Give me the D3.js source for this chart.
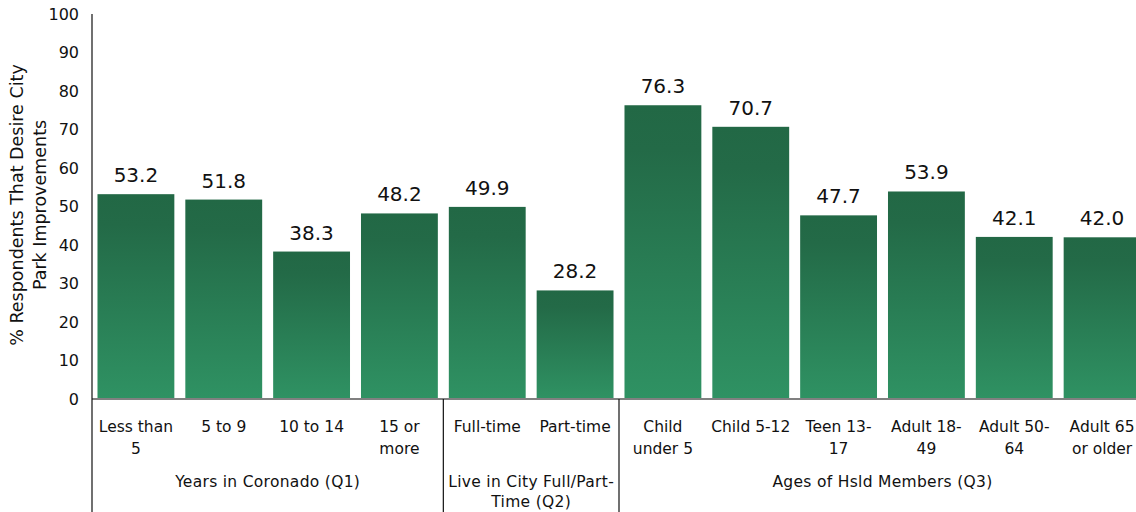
<!DOCTYPE html>
<html><head><meta charset="utf-8">
<script src="https://cdn.jsdelivr.net/npm/d3@7"></script>
<style>body{margin:0;background:#fff}svg{display:block}text{fill:#111}</style>
</head><body><svg id="c" width="1136" height="512"></svg>
<script>
const categories = ["Less than|5","5 to 9","10 to 14","15 or|more","Full-time","Part-time","Child|under 5","Child 5-12","Teen 13-|17","Adult 18-|49","Adult 50-|64","Adult 65|or older"];
const values = [53.2,51.8,38.3,48.2,49.9,28.2,76.3,70.7,47.7,53.9,42.1,42.0];
const groups = ["Years in Coronado (Q1)","Live in City Full/Part-|Time (Q2)","Ages of Hsld Members (Q3)"];
const groupSizes = [4,2,6];
const yTicks = [0,10,20,30,40,50,60,70,80,90,100];
const yTitle = ["% Respondents That Desire City","Park Improvements"];

const svg = d3.select("#c");
const font = "DejaVu Sans, Verdana, sans-serif";
const x = d3.scaleBand().domain(d3.range(categories.length)).range([92,1146]).paddingInner(0.125).paddingOuter(0.0625);
const y = d3.scaleLinear().domain([0,100]).range([399,14]);

const defs = svg.append("defs");
const g = defs.append("linearGradient").attr("id","gr").attr("x1",0).attr("y1",0).attr("x2",0).attr("y2",1);
g.append("stop").attr("offset","0%").attr("stop-color","#226845");
g.append("stop").attr("offset","15%").attr("stop-color","#236a47");
g.append("stop").attr("offset","100%").attr("stop-color","#2f9263");

svg.selectAll("rect.bar").data(values).join("rect").attr("class","bar")
  .attr("x",(d,i)=>x(i)).attr("width",x.bandwidth())
  .attr("y",d=>y(d)).attr("height",d=>y(0)-y(d)).attr("fill","url(#gr)");

svg.selectAll("text.val").data(values).join("text").attr("class","val")
  .attr("x",(d,i)=>x(i)+x.bandwidth()/2).attr("y",d=>y(d)-12)
  .attr("text-anchor","middle").attr("font-family",font).attr("font-size",20)
  .text(d=>d.toFixed(1));

// baseline
svg.append("line").attr("x1",92).attr("x2",1136).attr("y1",y(0)).attr("y2",y(0)).attr("stroke","#808080").attr("stroke-width",2);

// y axis
const ax = svg.append("g").attr("transform","translate(92,0)").call(d3.axisLeft(y).tickValues(yTicks).tickSize(0).tickPadding(13));
ax.select(".domain").remove();
ax.selectAll("text").attr("font-family",font).attr("font-size",16).attr("fill","#111");
svg.append("line").attr("x1",92).attr("x2",92).attr("y1",14).attr("y2",512).attr("stroke","#111").attr("stroke-width",1.2);

// y title
const yt = svg.append("text").attr("transform","translate(23,205) rotate(-90)").attr("text-anchor","middle")
  .attr("font-family",font).attr("font-size",17.5);
yTitle.forEach((t,i)=>yt.append("tspan").attr("x",0).attr("dy",i?23:0).text(t));

// category labels
svg.selectAll("text.cat").data(categories).join("text").attr("class","cat")
  .attr("text-anchor","middle").attr("font-family",font).attr("font-size",15.5)
  .each(function(d,i){
    const t=d3.select(this); const cx=x(i)+x.bandwidth()/2;
    d.split("|").forEach((s,k)=>t.append("tspan").attr("x",cx).attr("y",432+k*22).text(s));
  });

// groups
let start=0;
groups.forEach((gname,gi)=>{
  const n=groupSizes[gi];
  const left = 92 + (x.step())*start;
  const right = 92 + x.step()*(start+n);
  const cx=(left+right)/2;
  const t=svg.append("text").attr("text-anchor","middle").attr("font-family",font).attr("font-size",15.5).attr("letter-spacing",0.3);
  gname.split("|").forEach((s,k)=>t.append("tspan").attr("x",cx).attr("y",487+k*20).text(s));
  if(gi<groups.length-1){
    svg.append("line").attr("x1",right).attr("x2",right).attr("y1",y(0)).attr("y2",512).attr("stroke","#111").attr("stroke-width",1.2);
  }
  start+=n;
});
</script></body></html>
